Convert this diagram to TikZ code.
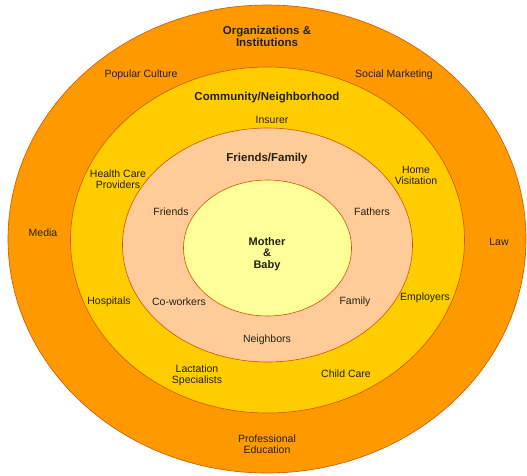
\documentclass[tikz,border=0pt]{standalone}
\usepackage{fontspec}
\setmainfont{Liberation Sans}
\definecolor{ringA}{HTML}{FF9900}
\definecolor{ringB}{HTML}{FFCC00}
\definecolor{ringC}{HTML}{FFCC99}
\definecolor{ringD}{HTML}{FFFF99}
\definecolor{edgecol}{HTML}{CC5500}
\definecolor{txt}{HTML}{222211}
\tikzset{
  ring/.style={draw=edgecol, line width=0.6pt},
  lbl/.style={text=txt, font=\fontsize{10.5}{11}\selectfont, align=center, inner sep=0pt},
  ttl/.style={text=txt, font=\fontsize{11.5}{12}\selectfont\bfseries, align=center, inner sep=0pt},
  ctr/.style={text=txt, font=\fontsize{11}{11.5}\selectfont\bfseries, align=center, inner sep=0pt},
}
\begin{document}
\begin{tikzpicture}[x=1pt,y=-1pt]
\useasboundingbox (0,0) rectangle (527,475);
\fill[white] (0,0) rectangle (527,475);
% rings
\draw[ring, fill=ringA] (267,239) ellipse [x radius=259, y radius=234];
\draw[ring, fill=ringB] (267.5,240) ellipse [x radius=197, y radius=173];
\draw[ring, fill=ringC] (267.5,245) ellipse [x radius=145, y radius=117];
\draw[ring, fill=ringD] (267.5,248) ellipse [x radius=84, y radius=68];
% outer ring texts
\node[ttl] (org) at (267,36) {Organizations \&\\Institutions};
\node[lbl] (pop) at (141,75) {Popular Culture};
\node[lbl] (soc) at (394,75) {Social Marketing};
\node[lbl] (media) at (43,233) {Media};
\node[lbl] (law) at (499,242) {Law};
\node[lbl] (prof) at (267,444) {Professional\\Education};
% community ring texts
\node[ttl] (comm) at (267,98) {Community/Neighborhood};
\node[lbl] (ins) at (272,120) {Insurer};
\node[lbl] (hcp) at (118,179) {Health Care\\Providers};
\node[lbl] (home) at (416,175) {Home\\Visitation};
\node[lbl] (hosp) at (109,302) {Hospitals};
\node[lbl] (emp) at (425,298) {Employers};
\node[lbl] (lact) at (197,375) {Lactation\\Specialists};
\node[lbl] (child) at (346,374) {Child Care};
% friends/family ring texts
\node[ttl] (ff) at (267,159) {Friends/Family};
\node[lbl] (friends) at (171,212) {Friends};
\node[lbl] (fathers) at (372,212) {Fathers};
\node[lbl] (cow) at (179,302) {Co-workers};
\node[lbl] (fam) at (355,302) {Family};
\node[lbl] (neigh) at (267,340) {Neighbors};
% center
\node[ctr] (mb) at (267,254) {Mother\\\&\\Baby};
\end{tikzpicture}
\end{document}
